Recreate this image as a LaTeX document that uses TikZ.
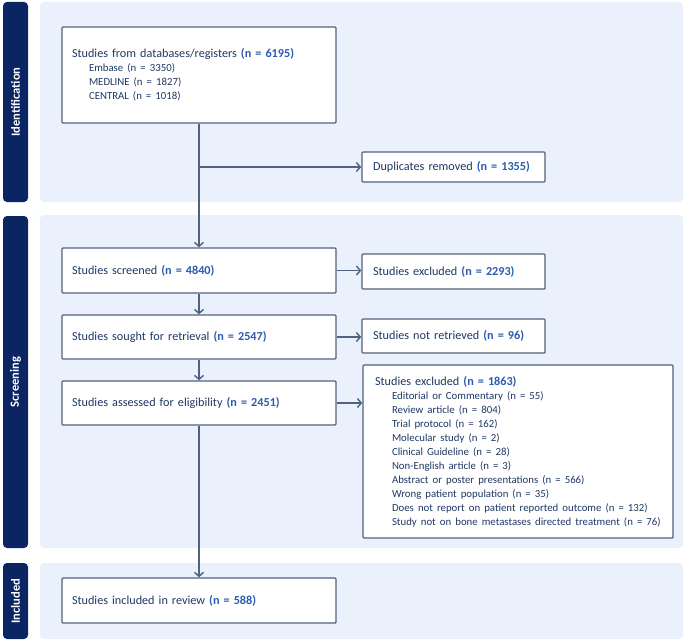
\documentclass[tikz,border=0pt]{standalone}
\usepackage{fontspec}
\setmainfont{Carlito}
\usepackage{tikz}
\usetikzlibrary{arrows.meta,positioning}
\definecolor{navy}{HTML}{0B2462}
\definecolor{panelblue}{HTML}{EAF1FC}
\definecolor{edge}{HTML}{51627F}
\definecolor{txt}{HTML}{1F3864}
\definecolor{numblue}{HTML}{2C5BB0}
\newcommand{\nval}[1]{\textcolor{numblue}{\textbf{#1}}}
\newcommand{\sublist}[1]{\hspace*{17pt}{\fontsize{10.8}{14}\selectfont #1}}

\begin{document}
\begin{tikzpicture}
	[x=1pt, y=-1pt, inner sep=0pt,
	panel/.style	= {fill=panelblue, rounded corners=4pt},
	phasebar/.style	= {fill=navy, rounded corners=4pt},
	phase/.style	= {rotate=90, text=white, font=\fontsize{12.5}{14}\selectfont\bfseries},
	mainbox/.style	= {rectangle, draw=edge, line width=1.4pt, fill=white, rounded corners=1pt,
		minimum width=274pt, text width=254pt, align=left, text=txt,
		font=\fontsize{12.2}{14}\selectfont},
	sidebox/.style	= {rectangle, draw=edge, line width=1.4pt, fill=white, rounded corners=1pt,
		minimum width=183pt, text width=161pt, align=left, text=txt,
		font=\fontsize{12.2}{14}\selectfont},
	flow/.style	= {-{Straight Barb[length=4pt, width=9pt]}, draw=edge, line width=1.4pt}]
	
	\useasboundingbox (0,0) rectangle (685,642);
	
	% phases
	\fill [panel] (40,2) rectangle (683,202);
	\fill [panel] (40,215) rectangle (683,548);
	\fill [panel] (40,563) rectangle (683,639);
	\fill [phasebar] (3,2) rectangle (28,202);
	\fill [phasebar] (3,216) rectangle (28,548);
	\fill [phasebar] (3,563) rectangle (28,639);
	\node at (15.5, 102)	[phase]	(pid)	{Identification};
	\node at (15.5, 382)	[phase]	(pscr)	{Screening};
	\node at (15.5, 601)	[phase]	(pinc)	{Included};
	
	% main column
	\node at (199, 75)	[mainbox, minimum height=96pt]	(db)	{Studies from databases/registers \nval{(n = 6195)}\\
		\sublist{Embase (n = 3350)}\\
		\sublist{MEDLINE (n = 1827)}\\
		\sublist{CENTRAL (n = 1018)}};
	\node at (199, 270.5)	[mainbox, minimum height=45pt]	(scr)	{Studies screened \nval{(n = 4840)}};
	\node at (199, 337)		[mainbox, minimum height=44pt]	(ret)	{Studies sought for retrieval \nval{(n = 2547)}};
	\node at (199, 403)		[mainbox, minimum height=44pt]	(elig)	{Studies assessed for eligibility \nval{(n = 2451)}};
	\node at (199, 600.5)	[mainbox, minimum height=45pt]	(inc)	{Studies included in review \nval{(n = 588)}};
	
	% side column
	\node at (453.5, 167)	[sidebox, minimum height=30pt]	(dup)	{Duplicates removed \nval{(n = 1355)}};
	\node at (453.5, 271.5)	[sidebox, minimum height=35pt]	(exscr)	{Studies excluded \nval{(n = 2293)}};
	\node at (453.5, 336)	[sidebox, minimum height=34pt]	(nret)	{Studies not retrieved \nval{(n = 96)}};
	\node at (518, 451.5)	[sidebox, minimum width=310pt, text width=286pt, minimum height=173pt]	(exelig)	{Studies excluded \nval{(n = 1863)}\\
		\sublist{Editorial or Commentary (n = 55)}\\
		\sublist{Review article (n = 804)}\\
		\sublist{Trial protocol (n = 162)}\\
		\sublist{Molecular study (n = 2)}\\
		\sublist{Clinical Guideline (n = 28)}\\
		\sublist{Non-English article (n = 3)}\\
		\sublist{Abstract or poster presentations (n = 566)}\\
		\sublist{Wrong patient population (n = 35)}\\
		\sublist{Does not report on patient reported outcome (n = 132)}\\
		\sublist{Study not on bone metastases directed treatment (n = 76)}};
	
	% arrows
	\draw [flow] (db.south) -- (scr.north);
	\draw [flow] (db.south |- dup.west) -- (dup.west);
	\draw [flow] (scr.south) -- (ret.north);
	\draw [flow] (ret.south) -- (elig.north);
	\draw [flow] (elig.south) -- (inc.north);
	
	\draw [flow] (scr.east) -- (scr.east -| exscr.west);
	\draw [flow] (ret.east) -- (ret.east -| nret.west);
	\draw [flow] (elig.east) -- (elig.east -| exelig.west);
	
\end{tikzpicture}
\end{document}
